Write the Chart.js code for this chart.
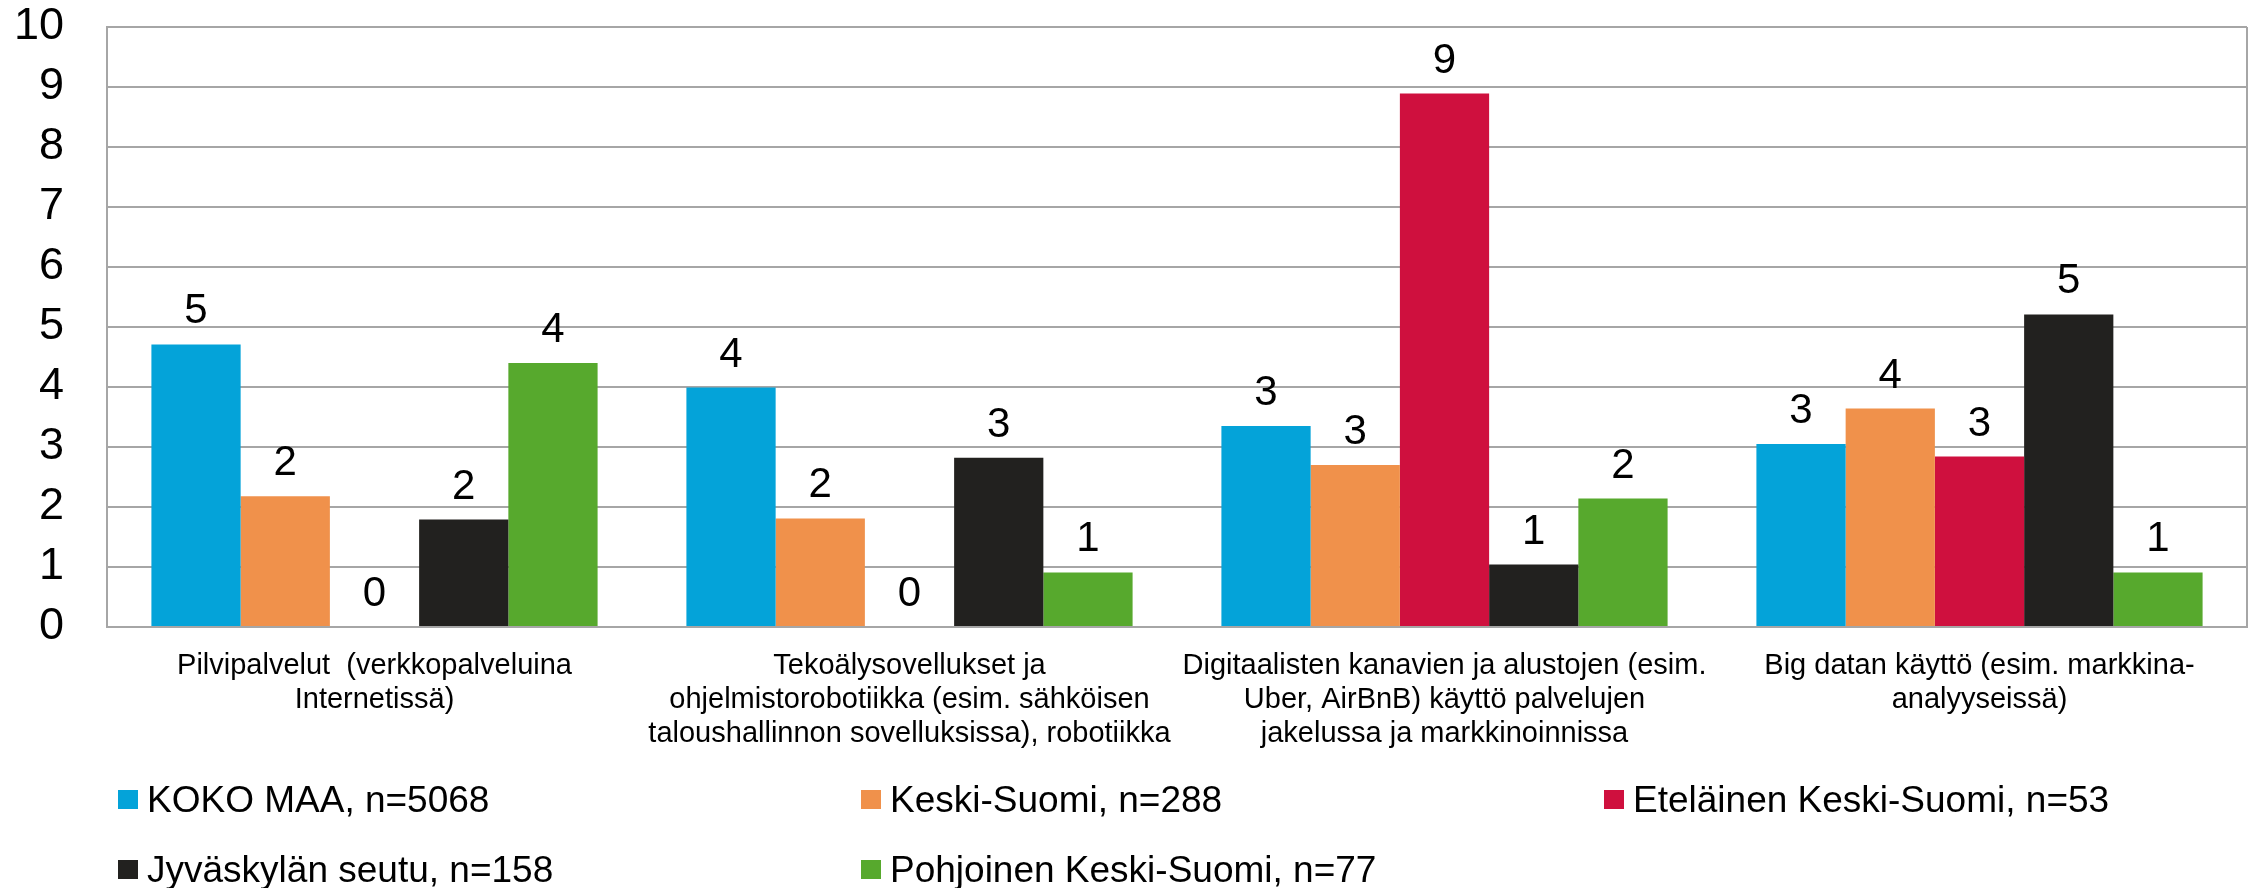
<!DOCTYPE html>
<html lang="fi">
<head>
<meta charset="utf-8">
<title>Digitaalisten teknologioiden käyttö</title>
<script src="https://cdn.jsdelivr.net/npm/chart.js@4.4.1/dist/chart.umd.min.js"></script>
<style>
  html, body { margin: 0; padding: 0; background: #ffffff; }
  #wrap { width: 2255px; height: 888px; position: relative; }
</style>
</head>
<body>
<div id="wrap"><canvas id="chart"></canvas></div>
<script>
const categories = [
  ["Pilvipalvelut  (verkkopalveluina", "Internetissä)"],
  ["Tekoälysovellukset ja", "ohjelmistorobotiikka (esim. sähköisen", "taloushallinnon sovelluksissa), robotiikka"],
  ["Digitaalisten kanavien ja alustojen (esim.", "Uber, AirBnB) käyttö palvelujen", "jakelussa ja markkinoinnissa"],
  ["Big datan käyttö (esim. markkina-", "analyyseissä)"]
];

const seriesNames = [
  "KOKO MAA, n=5068",
  "Keski-Suomi, n=288",
  "Eteläinen Keski-Suomi, n=53",
  "Jyväskylän seutu, n=158",
  "Pohjoinen Keski-Suomi, n=77"
];

const kokoMaa = [4.71, 3.99, 3.35, 3.05];
const keskiSuomi = [2.18, 1.81, 2.70, 3.64];
const etelainen = [0, 0, 8.89, 2.84];
const jyvaskyla = [1.79, 2.82, 1.04, 5.21];
const pohjoinen = [4.40, 0.91, 2.14, 0.91];

const yTicks = [0, 1, 2, 3, 4, 5, 6, 7, 8, 9, 10];

const colors = ["#04a3d9", "#f0914b", "#cf103e", "#22211f", "#57a92d"];
const seriesValues = [kokoMaa, keskiSuomi, etelainen, jyvaskyla, pohjoinen];

const FONT = "Arial, 'Liberation Sans', sans-serif";
const GRID = "#a6a6a6";

// value labels above each bar (rounded like the original)
const valueLabels = {
  id: "valueLabels",
  afterDatasetsDraw(chart) {
    const { ctx } = chart;
    ctx.save();
    ctx.font = `42px ${FONT}`;
    ctx.fillStyle = "#000000";
    ctx.textAlign = "center";
    ctx.textBaseline = "alphabetic";
    chart.data.datasets.forEach((ds, i) => {
      chart.getDatasetMeta(i).data.forEach((bar, j) => {
        ctx.fillText(String(Math.round(ds.data[j])), bar.x, bar.y - 21);
      });
    });
    ctx.restore();
  }
};

// right-hand edge of the plot frame
const plotFrame = {
  id: "plotFrame",
  afterDraw(chart) {
    const { ctx, chartArea } = chart;
    ctx.save();
    ctx.strokeStyle = GRID;
    ctx.lineWidth = 2;
    ctx.beginPath();
    ctx.moveTo(chartArea.right, chartArea.top);
    ctx.lineTo(chartArea.right, chartArea.bottom);
    ctx.stroke();
    ctx.restore();
  }
};

// legend laid out in a 3-column grid under the axis labels
const gridLegend = {
  id: "gridLegend",
  afterDraw(chart) {
    const { ctx, chartArea } = chart;
    const startX = chartArea.left + 11;
    const colWidth = 743;
    const rowY = [chart.height - 88, chart.height - 18];
    ctx.save();
    ctx.font = `37px ${FONT}`;
    ctx.textBaseline = "middle";
    ctx.textAlign = "left";
    chart.data.datasets.forEach((ds, i) => {
      const col = i % 3;
      const row = Math.floor(i / 3);
      const x = startX + col * colWidth;
      const y = rowY[row];
      ctx.fillStyle = ds.backgroundColor;
      ctx.fillRect(x, y - 10, 20, 19);
      ctx.fillStyle = "#000000";
      ctx.fillText(ds.label, x + 29, y + 2);
    });
    ctx.restore();
  }
};

new Chart(document.getElementById("chart"), {
  type: "bar",
  data: {
    labels: categories,
    datasets: seriesNames.map((name, i) => ({
      label: name,
      data: seriesValues[i],
      backgroundColor: colors[i],
      borderWidth: 0,
      categoryPercentage: 0.834,
      barPercentage: 1
    }))
  },
  options: {
    responsive: true,
    maintainAspectRatio: false,
    animation: false,
    layout: { padding: { left: 0, right: 8, top: 27, bottom: 130 } },
    plugins: {
      legend: { display: false },
      tooltip: { enabled: false }
    },
    scales: {
      x: {
        grid: { display: false, drawTicks: false },
        border: { display: true, color: GRID, width: 2 },
        ticks: {
          color: "#000000",
          font: { family: FONT, size: 29, lineHeight: 1.17 },
          padding: 22,
          maxRotation: 0,
          autoSkip: false
        },
        afterFit(scale) { scale.height = 131; }
      },
      y: {
        min: 0,
        max: 10,
        afterBuildTicks(scale) { scale.ticks = yTicks.map((v) => ({ value: v })); },
        grid: { color: GRID, lineWidth: 2, drawTicks: true, tickLength: 43, tickColor: "rgba(0,0,0,0)" },
        border: { display: true, color: GRID, width: 2 },
        ticks: {
          color: "#000000",
          font: { family: FONT, size: 45, lineHeight: 1 },
          padding: 0
        },
        afterFit(scale) { scale.width = 107; }
      }
    }
  },
  plugins: [valueLabels, plotFrame, gridLegend]
});
</script>
</body>
</html>
